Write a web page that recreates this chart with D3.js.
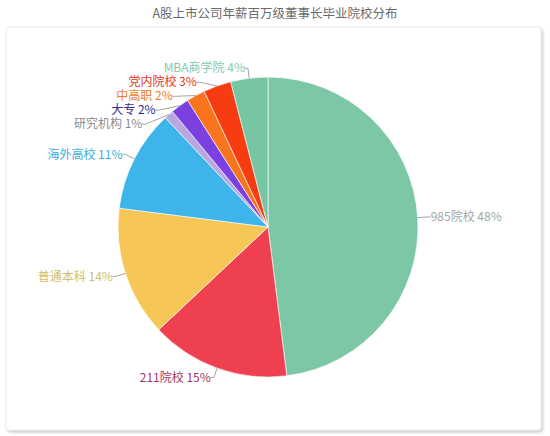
<!DOCTYPE html>
<html>
<head>
<meta charset="utf-8">
<script src="https://cdn.jsdelivr.net/npm/d3@7"></script>
<style>
  body { margin: 0; background: #fff; }
  svg { display: block; font-family: "Noto Sans CJK SC", "Noto Sans", sans-serif; }
</style>
</head>
<body>
<svg id="chart" width="550" height="436"></svg>
<script>
// chart data
let categories = ['985院校', '211院校', '普通本科', '海外高校', '研究机构', '大专', '中高职', '党内院校', 'MBA商学院']
let shares = [48, 15, 14, 11, 1, 2, 2, 3, 4]
let sliceColors = ['#7cc7a5', '#ef4050', '#f6c757', '#3db4ea', '#b9a7e0', '#7a40e0', '#f9741d', '#f83c12', '#76c5a3']
let labelColors = ['#a0a8a4', '#a23a62', '#cfc06a', '#3aaedc', '#8c8c8c', '#3b2c8c', '#f27a2a', '#e8361a', '#86c9ad']
let title = 'A股上市公司年薪百万级董事长毕业院校分布'

let svg = d3.select('#chart')
let width = 550
let cx = 268
let cy = 227
let radius = 150
let labelR = 160

// card background with shadow
let defs = svg.append('defs')
let shadow = defs.append('filter').attr('id', 'shadow')
  .attr('x', '-5%').attr('y', '-5%').attr('width', '110%').attr('height', '115%')
shadow.append('feDropShadow')
  .attr('dx', 1.5).attr('dy', 2).attr('stdDeviation', 1.5)
  .attr('flood-color', '#000').attr('flood-opacity', 0.22)

svg.append('rect')
  .attr('x', 6)
  .attr('y', 27)
  .attr('width', 535)
  .attr('height', 403)
  .attr('rx', 3)
  .attr('fill', '#fff')
  .attr('stroke', '#e4e4e4')
  .attr('stroke-width', 0.8)
  .attr('filter', 'url(#shadow)')

svg.append('text')
  .text(title)
  .attr('x', width / 2)
  .attr('y', 18)
  .attr('text-anchor', 'middle')
  .style('font-size', '12.5px')
  .attr('fill', '#6a6a6a')

let rows = categories.map((c, i) => ({name: c, value: shares[i], color: sliceColors[i], labelColor: labelColors[i]}))

let pie = d3.pie().sort(null).value(d => d.value)
let arcs = pie(rows)
let arc = d3.arc().innerRadius(0).outerRadius(radius)

let g = svg.append('g').attr('transform', 'translate(' + cx + ',' + cy + ')')

g.selectAll('path.slice')
  .data(arcs)
  .enter()
  .append('path')
  .attr('class', 'slice')
  .attr('d', arc)
  .attr('fill', d => d.data.color)
  .attr('stroke', '#ffffff')
  .attr('stroke-opacity', 0.8)
  .attr('stroke-width', 0.8)

// label layout: start on the outer circle, then push apart on each side
let labels = arcs.map(function (d) {
  let mid = (d.startAngle + d.endAngle) / 2
  return {
    d: d,
    mid: mid,
    side: Math.sin(mid) >= 0 ? 1 : -1,
    ax: radius * Math.sin(mid),
    ay: -radius * Math.cos(mid),
    y: -labelR * Math.cos(mid)
  }
})

;[1, -1].forEach(function (side) {
  let list = labels.filter(l => l.side === side).sort((a, b) => a.y - b.y)
  for (let i = 1; i < list.length; i++) {
    if (list[i].y < list[i - 1].y + 14) list[i].y = list[i - 1].y + 14
  }
})

labels.forEach(function (l) {
  let dy = Math.min(Math.abs(l.y), labelR - 1)
  l.x = l.side * Math.sqrt(labelR * labelR - dy * dy)
  l.tx = l.x + l.side * 3
})

g.selectAll('polyline.leader')
  .data(labels)
  .enter()
  .append('polyline')
  .attr('class', 'leader')
  .attr('points', l => [[l.ax, l.ay], [l.x, l.y], [l.tx, l.y]].map(p => p.join(',')).join(' '))
  .attr('fill', 'none')
  .attr('stroke', '#8a8a8a')
  .attr('stroke-width', 0.8)

g.selectAll('text.label')
  .data(labels)
  .enter()
  .append('text')
  .attr('class', 'label')
  .text(l => l.d.data.name + ' ' + l.d.data.value + '%')
  .attr('x', l => l.tx)
  .attr('y', l => l.y)
  .attr('dy', '0.35em')
  .attr('text-anchor', l => l.side > 0 ? 'start' : 'end')
  .style('font-size', '12px')
  .attr('fill', l => l.d.data.labelColor)
</script>
</body>
</html>
